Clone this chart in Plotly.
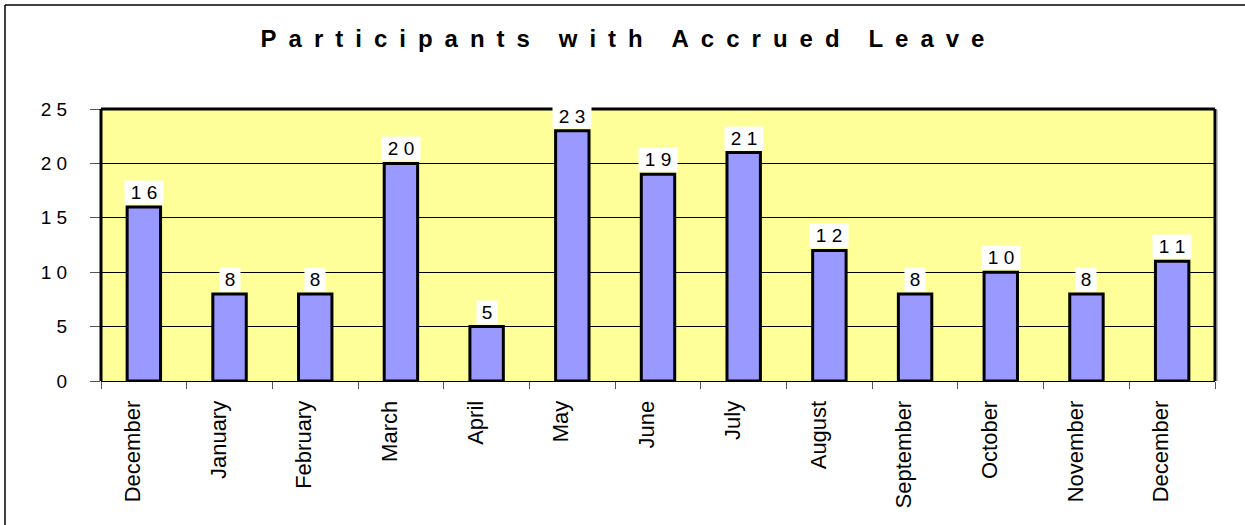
import plotly.graph_objects as go

months = ["December", "January", "February", "March", "April", "May", "June",
          "July", "August", "September", "October", "November", "December"]
values = [16, 8, 8, 20, 5, 23, 19, 21, 12, 8, 10, 8, 11]
ytick_vals = [0, 5, 10, 15, 20, 25]
ytick_text = ["0", "5", "1 0", "1 5", "2 0", "2 5"]
title_text = "Participants with Accrued Leave"

positions = list(range(len(months)))
FONT = "Arial, Liberation Sans, sans-serif"

def spaced(s, sep=" "):
    return sep.join(list(s))

fig = go.Figure()
fig.add_trace(go.Bar(
    x=positions, y=values,
    marker=dict(color="#9999FF", line=dict(color="black", width=3)),
    hoverinfo="x+y",
))

for p, v in zip(positions, values):
    label = str(v)
    fig.add_annotation(
        x=p, y=v, xref="x", yref="y",
        text=spaced(label), showarrow=False,
        yanchor="bottom", yshift=2,
        width=18 * len(label),
        bgcolor="white", borderpad=1,
        font=dict(family=FONT, size=19, color="black"),
    )

W, H = 1245, 525
L, R, T, B = 101, 30, 109, 144
pw, ph = W - L - R, H - T - B

def px(xp):
    return (xp - L) / pw

def py(yp):
    return (H - B - yp) / ph

title_sp = "\u2002\u2002\u2009".join("\u2002".join(list(w)) for w in title_text.split(" "))

fig.update_layout(
    width=W, height=H,
    margin=dict(l=L, r=R, t=T, b=B),
    paper_bgcolor="white",
    plot_bgcolor="#FFFF99",
    showlegend=False,
    bargap=0.61,
    title=dict(
        text="<b>" + title_sp + "</b>",
        x=0.5, xref="container", xanchor="center",
        y=1 - 39 / H, yref="container", yanchor="middle",
        font=dict(family=FONT, size=24, color="black"),
    ),
    font=dict(family=FONT, color="black"),
    xaxis=dict(
        type="category",
        tickmode="array", tickvals=positions, ticktext=months,
        tickson="boundaries",
        ticks="outside", ticklen=7, tickwidth=1, tickcolor="#555555",
        tickangle=-90,
        tickfont=dict(size=22),
        ticklabelstandoff=10,
        ticklabelshift=-11,
        showgrid=False,
        showline=True, linecolor="black", linewidth=1,
        range=[-0.5, 12.5],
    ),
    yaxis=dict(
        range=[0, 25],
        tickmode="array", tickvals=ytick_vals, ticktext=ytick_text,
        ticks="outside", ticklen=10, tickwidth=1, tickcolor="#555555",
        tickfont=dict(size=19),
        ticklabelstandoff=19,
        showgrid=True, gridcolor="black", gridwidth=1,
        zeroline=False,
        showline=False,
    ),
    shapes=[
        dict(type="line", xref="paper", yref="paper", x0=0, x1=0, y0=0, y1=1,
             line=dict(color="black", width=3)),
        dict(type="line", xref="paper", yref="paper", x0=0, x1=1, y0=1, y1=1,
             line=dict(color="black", width=3)),
        dict(type="line", xref="paper", yref="paper", x0=1, x1=1, y0=0, y1=1,
             line=dict(color="black", width=3)),
        dict(type="line", xref="paper", yref="paper", x0=px(1217), x1=px(1217), y0=0, y1=py(110),
             line=dict(color="#888888", width=1)),
        dict(type="line", xref="paper", yref="paper", x0=px(5), x1=px(1245), y0=py(5), y1=py(5),
             line=dict(color="black", width=1.5)),
        dict(type="line", xref="paper", yref="paper", x0=px(5), x1=px(5), y0=py(5), y1=py(525),
             line=dict(color="black", width=1.5)),
    ],
)

fig.write_html(
    "out.html",
    config={"displayModeBar": False},
    post_script="document.body.style.margin='0';document.body.style.overflow='hidden';",
)
